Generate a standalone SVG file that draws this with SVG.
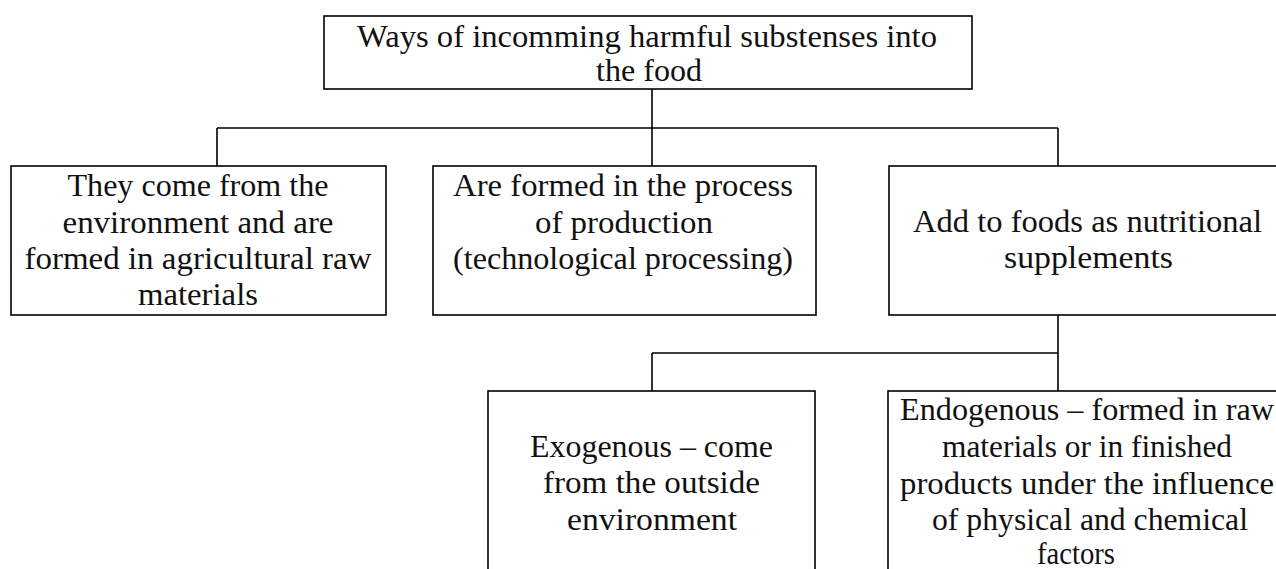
<svg xmlns="http://www.w3.org/2000/svg" width="1276" height="569" viewBox="0 0 1276 569">
<style>
.box{fill:#fff;stroke:#000;stroke-width:1.6}
.ln{fill:none;stroke:#000;stroke-width:1.6}
text{font-family:"Liberation Serif","DejaVu Serif",serif;font-size:31px;fill:#111;text-anchor:middle}
</style>
<rect width="1276" height="569" fill="#fff"/>
<g id="connectors">
<path class="ln" d="M652 89V128M217 128H1058M217 128V166M652 128V166M1058 128V166"/>
<path class="ln" d="M1058 315V391M652 353H1058M652 353V391"/>
</g>
<g id="root">
<rect class="box" x="324" y="16" width="648" height="73"/>
<text x="647" y="47" textLength="580" lengthAdjust="spacingAndGlyphs">Ways of incomming harmful substenses into</text>
<text x="649" y="81" textLength="106" lengthAdjust="spacingAndGlyphs">the food</text>
</g>
<g id="environment">
<rect class="box" x="11" y="166" width="375" height="149"/>
<text x="198" y="196" textLength="261" lengthAdjust="spacingAndGlyphs">They come from the</text>
<text x="198" y="233" textLength="271" lengthAdjust="spacingAndGlyphs">environment and are</text>
<text x="198" y="269" textLength="347" lengthAdjust="spacingAndGlyphs">formed in agricultural raw</text>
<text x="198" y="305" textLength="120" lengthAdjust="spacingAndGlyphs">materials</text>
</g>
<g id="production">
<rect class="box" x="433" y="166" width="383" height="149"/>
<text x="623" y="196" textLength="340" lengthAdjust="spacingAndGlyphs">Are formed in the process</text>
<text x="624" y="233" textLength="178" lengthAdjust="spacingAndGlyphs">of production</text>
<text x="623" y="269" textLength="340" lengthAdjust="spacingAndGlyphs">(technological processing)</text>
</g>
<g id="supplements">
<rect class="box" x="889" y="166" width="400" height="149"/>
<text x="1087.5" y="232" textLength="349" lengthAdjust="spacingAndGlyphs">Add to foods as nutritional</text>
<text x="1088.5" y="268" textLength="169" lengthAdjust="spacingAndGlyphs">supplements</text>
</g>
<g id="exogenous">
<rect class="box" x="488" y="391" width="327" height="220"/>
<text x="651.5" y="457" textLength="243" lengthAdjust="spacingAndGlyphs">Exogenous – come</text>
<text x="651.5" y="493" textLength="217" lengthAdjust="spacingAndGlyphs">from the outside</text>
<text x="652" y="530" textLength="170" lengthAdjust="spacingAndGlyphs">environment</text>
</g>
<g id="endogenous">
<rect class="box" x="888" y="391" width="400" height="220"/>
<text x="1087" y="420" textLength="374" lengthAdjust="spacingAndGlyphs">Endogenous – formed in raw</text>
<text x="1087" y="457" textLength="290" lengthAdjust="spacingAndGlyphs">materials or in finished</text>
<text x="1087" y="494" textLength="374" lengthAdjust="spacingAndGlyphs">products under the influence</text>
<text x="1090" y="530" textLength="316" lengthAdjust="spacingAndGlyphs">of physical and chemical</text>
<text x="1076" y="564" textLength="78" lengthAdjust="spacingAndGlyphs">factors</text>
</g>
</svg>
